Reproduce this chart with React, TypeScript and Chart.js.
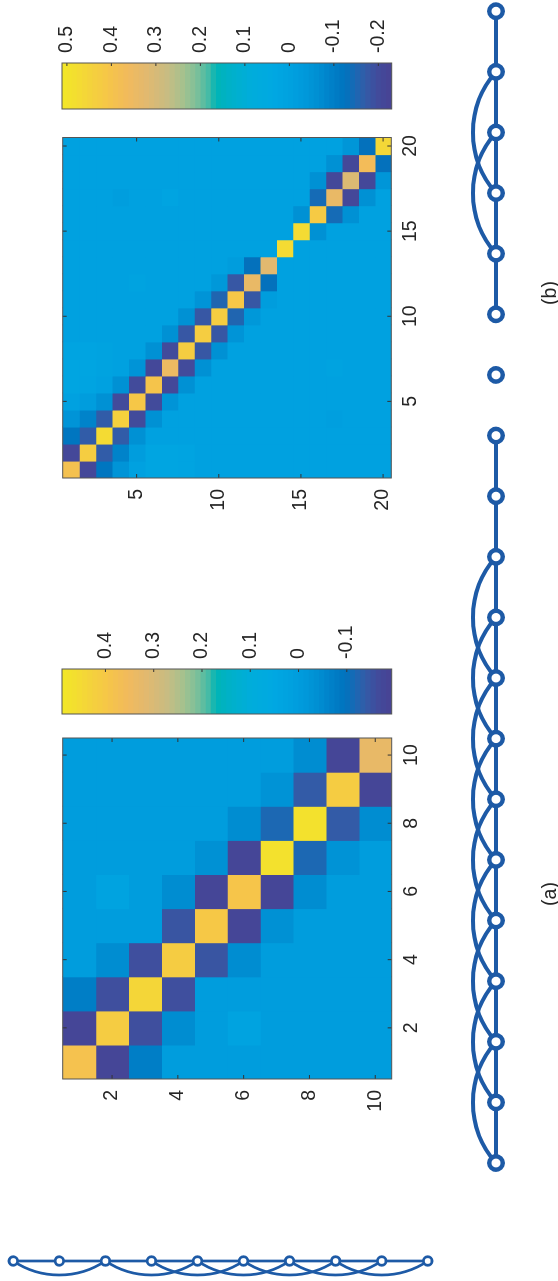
import React, { useEffect, useRef } from 'react';
import { Chart, registerables } from 'chart.js';

Chart.register(...registerables);

// ================= DATA =================
// Heatmap (a): 10 x 10 symmetric matrix, given by its bands
const heatA_tickLabels = [2, 4, 6, 8, 10];
const heatA_diag = [0.38, 0.41, 0.44, 0.41, 0.4, 0.39, 0.47, 0.47, 0.41, 0.33];
const heatA_off1 = [-0.18, -0.16, -0.16, -0.15, -0.18, -0.18, -0.12, -0.14, -0.18];
const heatA_off2 = [-0.075, -0.045, 0, -0.045, -0.035, -0.045, -0.03, -0.045];
const heatA_off3: number[] = [];
const heatA_extra: number[][] = [
  [2, 6, 0.025],
  [6, 2, 0.025],
];
const heatA_clim = [-0.193, 0.49];

// Heatmap (b): 20 x 20 symmetric matrix, given by its bands
const heatB_tickLabels = [5, 10, 15, 20];
const heatB_diag = [
  0.39, 0.43, 0.47, 0.44, 0.41, 0.4, 0.35, 0.43, 0.43, 0.43,
  0.41, 0.34, 0.32, 0.47, 0.47, 0.42, 0.34, 0.31, 0.37, 0.46,
];
const heatB_off1 = [
  -0.21, -0.17, -0.17, -0.2, -0.2, -0.21, -0.2, -0.18, -0.18, -0.155,
  -0.18, -0.13, 0, 0, -0.06, -0.145, -0.21, -0.21, -0.13,
];
const heatB_off2 = [
  -0.12, -0.09, -0.06, -0.06, -0.05, -0.06, -0.06, -0.06, -0.05, -0.04,
  -0.02, 0, 0, 0, 0, -0.06, -0.06, -0.045,
];
const heatB_off3 = [-0.05, -0.02];
const heatB_extra: number[][] = [
  [1, 6, 0.02], [1, 7, 0.02], [1, 8, 0.015], [2, 6, 0.015], [2, 7, 0.02], [2, 8, 0.015],
  [3, 7, 0.01], [3, 8, 0.01], [6, 1, 0.02], [7, 1, 0.02], [6, 2, 0.02], [7, 2, 0.02],
  [8, 1, 0.015], [8, 2, 0.015], [4, 17, -0.015], [7, 17, 0.015], [5, 12, 0.01],
  [17, 4, -0.01], [17, 7, 0.01],
];
const heatB_clim = [-0.23, 0.511];

// Colorbars
const cbarA_tickLabels = [-0.1, 0, 0.1, 0.2, 0.3, 0.4];
const cbarB_tickLabels = [-0.2, -0.1, 0, 0.1, 0.2, 0.3, 0.4, 0.5];

// Colormap stops: [position 0..1, r, g, b]
const cmapStops: number[][] = [
  [0.0, 72, 66, 148],
  [0.04, 66, 75, 155],
  [0.08, 50, 92, 168],
  [0.11, 25, 105, 180],
  [0.14, 0, 115, 190],
  [0.18, 0, 128, 200],
  [0.22, 0, 142, 210],
  [0.26, 0, 153, 218],
  [0.3, 0, 160, 223],
  [0.36, 0, 168, 226],
  [0.43, 0, 173, 218],
  [0.49, 0, 177, 200],
  [0.53, 0, 180, 182],
  [0.555, 70, 187, 166],
  [0.59, 125, 192, 153],
  [0.63, 165, 193, 142],
  [0.68, 200, 188, 130],
  [0.74, 225, 185, 112],
  [0.8, 242, 186, 92],
  [0.86, 246, 198, 72],
  [0.93, 244, 215, 55],
  [1.0, 242, 232, 38],
];

// Graph along the bottom (20 nodes)
const chainNodes = [1, 2, 3, 4, 5, 6, 7, 8, 9, 10, 11, 12, 13, 14, 15, 16, 17, 18, 19, 20];
const chainEdges = [
  [1, 2], [2, 3], [3, 4], [4, 5], [5, 6], [6, 7], [7, 8], [8, 9], [9, 10], [10, 11],
  [11, 12], [12, 13], [15, 16], [16, 17], [17, 18], [18, 19], [19, 20],
];
const chainArcs = [
  [1, 3], [2, 4], [3, 5], [4, 6], [5, 7], [6, 8], [7, 9], [8, 10], [9, 11], [16, 18], [17, 19],
];

// Partial graph at the far edge (10 nodes)
const sideNodes = [1, 2, 3, 4, 5, 6, 7, 8, 9, 10];
const sideEdges = [[1, 2], [2, 3], [3, 4], [4, 5], [5, 6], [6, 7], [7, 8], [8, 9], [9, 10]];
const sideArcs = [[1, 3], [3, 5], [4, 6], [5, 7], [6, 8], [7, 9], [8, 10]];

const captions = ['(a)', '(b)'];

// ================= STYLE =================
const FONT_FAMILY = '"Liberation Sans", Arial, Helvetica, sans-serif';
const FONT_SIZE = 19.5;
const TEXT_COLOR = '#262626';
const BOX_COLOR = '#555555';
const TICK_COLOR = '#333333';
const GRAPH_BLUE = '#1d5aa6';

function buildMatrix(diag: number[], off1: number[], off2: number[], off3: number[], extra: number[][]) {
  const n = diag.length;
  const m: number[][] = [];
  for (let i = 0; i < n; i++) m.push(new Array(n).fill(0));
  diag.forEach((v, i) => { m[i][i] = v; });
  [off1, off2, off3].forEach((band, k) => {
    band.forEach((v, i) => {
      m[i][i + k + 1] = v;
      m[i + k + 1][i] = v;
    });
  });
  extra.forEach(([r, c, v]) => { m[r - 1][c - 1] = v; });
  return m;
}

function cmap(t: number): string {
  const tt = Math.max(0, Math.min(1, t));
  for (let i = 0; i < cmapStops.length - 1; i++) {
    const [t0, r0, g0, b0] = cmapStops[i];
    const [t1, r1, g1, b1] = cmapStops[i + 1];
    if (tt <= t1) {
      const f = (tt - t0) / (t1 - t0);
      return `rgb(${Math.round(r0 + f * (r1 - r0))},${Math.round(g0 + f * (g1 - g0))},${Math.round(b0 + f * (b1 - b0))})`;
    }
  }
  const l = cmapStops[cmapStops.length - 1];
  return `rgb(${l[1]},${l[2]},${l[3]})`;
}

function colorAt(v: number, clim: number[]) {
  return cmap((v - clim[0]) / (clim[1] - clim[0]));
}

// Box around the plot area and inward tick marks (MATLAB style)
const boxTicksPlugin = {
  id: 'boxTicks',
  afterDatasetsDraw(chart: any, _args: any, o: any) {
    const { ctx, chartArea: a } = chart;
    ctx.save();
    ctx.strokeStyle = TICK_COLOR;
    ctx.lineWidth = 1;
    const len = o.len || 4;
    const xs = chart.scales.x;
    const ys = chart.scales.y;
    if (o.sidesX && o.sidesX.length) {
      for (const t of xs.ticks) {
        const p = xs.getPixelForValue(t.value);
        ctx.beginPath();
        if (o.sidesX.includes('bottom')) { ctx.moveTo(p, a.bottom); ctx.lineTo(p, a.bottom - len); }
        if (o.sidesX.includes('top')) { ctx.moveTo(p, a.top); ctx.lineTo(p, a.top + len); }
        ctx.stroke();
      }
    }
    if (o.sidesY && o.sidesY.length) {
      for (const t of ys.ticks) {
        const p = ys.getPixelForValue(t.value);
        ctx.beginPath();
        if (o.sidesY.includes('left')) { ctx.moveTo(a.left, p); ctx.lineTo(a.left + len, p); }
        if (o.sidesY.includes('right')) { ctx.moveTo(a.right, p); ctx.lineTo(a.right - len, p); }
        ctx.stroke();
      }
    }
    ctx.strokeStyle = BOX_COLOR;
    ctx.lineWidth = 1;
    ctx.strokeRect(a.left, a.top, a.right - a.left, a.bottom - a.top);
    ctx.restore();
  },
};

// Draw the edges of the graph (straight + arcs) under the nodes
const graphEdgesPlugin = {
  id: 'graphEdges',
  beforeDatasetsDraw(chart: any, _args: any, o: any) {
    const { ctx } = chart;
    const xs = chart.scales.x;
    const ys = chart.scales.y;
    const P = (n: number) =>
      o.vertical
        ? [xs.getPixelForValue(0), ys.getPixelForValue(n)]
        : [xs.getPixelForValue(n), ys.getPixelForValue(0)];
    ctx.save();
    ctx.strokeStyle = o.color;
    ctx.lineWidth = o.lineWidth;
    ctx.lineCap = 'round';
    for (const [a, b] of o.edges) {
      const [x1, y1] = P(a);
      const [x2, y2] = P(b);
      ctx.beginPath();
      ctx.moveTo(x1, y1);
      ctx.lineTo(x2, y2);
      ctx.stroke();
    }
    for (const [a, b] of o.arcs) {
      const [x1, y1] = P(a);
      const [x2, y2] = P(b);
      const c = Math.hypot(x2 - x1, y2 - y1);
      const s = o.sagitta;
      const R = (c * c / 4 + s * s) / (2 * s);
      const mx = (x1 + x2) / 2;
      const my = (y1 + y2) / 2;
      const [nx, ny] = o.bulge; // unit direction of the bulge
      const cx = mx - nx * (R - s);
      const cy = my - ny * (R - s);
      const a1 = Math.atan2(y1 - cy, x1 - cx);
      const a2 = Math.atan2(y2 - cy, x2 - cx);
      let d = a2 - a1;
      while (d > Math.PI) d -= 2 * Math.PI;
      while (d < -Math.PI) d += 2 * Math.PI;
      ctx.beginPath();
      ctx.arc(cx, cy, R, a1, a1 + d, d < 0);
      ctx.stroke();
    }
    ctx.restore();
  },
};

const tickFont = { family: FONT_FAMILY, size: FONT_SIZE };

function heatmapConfig(matrix: number[][], clim: number[], tickLabels: number[], g: any): any {
  const n = matrix.length;
  const datasets = matrix.map((row, i) => ({
    data: row.map((_, j) => ({ x: j + 1, y: [i + 0.5, i + 1.5] })),
    backgroundColor: row.map((v) => colorAt(v, clim)),
    borderWidth: 0,
    inflateAmount: 0.6,
    grouped: false,
    barPercentage: 1,
    categoryPercentage: 1,
  }));
  const setTicks = (s: any) => { s.ticks = tickLabels.map((v) => ({ value: v })); };
  return {
    type: 'bar',
    data: { datasets },
    options: {
      animation: false,
      responsive: false,
      events: [],
      layout: { padding: { left: 0, top: g.top, right: g.right, bottom: 0 } },
      plugins: {
        legend: { display: false },
        tooltip: { enabled: false },
        boxTicks: { sidesX: ['top', 'bottom'], sidesY: ['left', 'right'], len: 4 },
      },
      scales: {
        x: {
          type: 'linear', position: 'bottom', min: 0.5, max: n + 0.5, offset: false,
          afterBuildTicks: setTicks,
          afterFit: (s: any) => { s.height = g.xAxisH; },
          grid: { display: false, drawTicks: false },
          border: { display: false },
          ticks: { font: tickFont, color: TEXT_COLOR, padding: 8, maxRotation: 0, minRotation: 0, autoSkip: false, callback: (v: any) => String(v) },
        },
        y: {
          type: 'linear', position: 'left', min: 0.5, max: n + 0.5, reverse: true,
          afterBuildTicks: setTicks,
          afterFit: (s: any) => { s.width = g.yAxisW; },
          grid: { display: false, drawTicks: false },
          border: { display: false },
          ticks: { font: tickFont, color: TEXT_COLOR, padding: 11, autoSkip: false, callback: (v: any) => String(v) },
        },
      },
    },
    plugins: [boxTicksPlugin],
  };
}

function colorbarConfig(clim: number[], tickLabels: number[], g: any): any {
  const bands = 64;
  const step = (clim[1] - clim[0]) / bands;
  const datasets = [];
  for (let k = 0; k < bands; k++) {
    datasets.push({
      data: [[clim[0] + k * step, clim[0] + (k + 1) * step]],
      backgroundColor: cmap((k + 0.5) / bands),
      borderWidth: 0,
      inflateAmount: 0.6,
      grouped: false,
      barPercentage: 1,
      categoryPercentage: 1,
    });
  }
  return {
    type: 'bar',
    data: { labels: [''], datasets },
    options: {
      animation: false,
      responsive: false,
      events: [],
      layout: { padding: { left: g.left, top: g.top, right: 0, bottom: g.bottom } },
      plugins: {
        legend: { display: false },
        tooltip: { enabled: false },
        boxTicks: { sidesX: [], sidesY: ['right'], len: 3 },
      },
      scales: {
        x: { type: 'category', display: false, offset: true },
        y: {
          type: 'linear', position: 'right', min: clim[0], max: clim[1],
          afterBuildTicks: (s: any) => { s.ticks = tickLabels.map((v) => ({ value: v })); },
          afterFit: (s: any) => { s.width = g.axisW; },
          grid: { display: false, drawTicks: false },
          border: { display: false },
          ticks: { font: tickFont, color: TEXT_COLOR, padding: 10, autoSkip: false, callback: (v: any) => String(v) },
        },
      },
    },
    plugins: [boxTicksPlugin],
  };
}

function graphConfig(nodes: number[], edges: number[][], arcs: number[][], g: any): any {
  return {
    type: 'scatter',
    data: {
      datasets: [{
        data: nodes.map((n) => (g.vertical ? { x: 0, y: n } : { x: n, y: 0 })),
        pointRadius: g.r,
        pointBorderWidth: g.bw,
        pointBackgroundColor: '#ffffff',
        pointBorderColor: GRAPH_BLUE,
        clip: false,
        showLine: false,
      }],
    },
    options: {
      animation: false,
      responsive: false,
      events: [],
      layout: { padding: g.padding },
      plugins: {
        legend: { display: false },
        tooltip: { enabled: false },
        graphEdges: {
          edges, arcs, vertical: g.vertical, sagitta: g.sagitta, bulge: g.bulge,
          lineWidth: g.lineWidth, color: GRAPH_BLUE,
        },
      },
      scales: {
        x: g.vertical
          ? { type: 'linear', display: false, min: -1, max: 1 }
          : { type: 'linear', display: false, min: nodes[0], max: nodes[nodes.length - 1] },
        y: g.vertical
          ? { type: 'linear', display: false, min: nodes[0], max: nodes[nodes.length - 1], reverse: true }
          : { type: 'linear', display: false, min: -1, max: 1 },
      },
    },
    plugins: [graphEdgesPlugin],
  };
}

function ChartBox({ x, y, w, h, make }: { x: number; y: number; w: number; h: number; make: () => any }) {
  const ref = useRef<HTMLCanvasElement | null>(null);
  useEffect(() => {
    if (!ref.current) return;
    const chart = new Chart(ref.current, make());
    return () => chart.destroy();
  }, []);
  return (
    <div style={{ position: 'absolute', left: x, top: y, width: w, height: h }}>
      <canvas ref={ref} width={w} height={h} style={{ display: 'block', width: w, height: h }} />
    </div>
  );
}

const matrixA = buildMatrix(heatA_diag, heatA_off1, heatA_off2, heatA_off3, heatA_extra);
const matrixB = buildMatrix(heatB_diag, heatB_off1, heatB_off2, heatB_off3, heatB_extra);

const captionCenters = [387, 988];

export default function App() {
  useEffect(() => {
    document.body.style.margin = '0';
    document.body.style.overflow = 'hidden';
    document.documentElement.style.overflow = 'hidden';
  }, []);
  return (
    <div style={{ position: 'fixed', left: 0, top: 0, width: 558, height: 1281, overflow: 'hidden', background: '#ffffff' }}>
      <div
        style={{
          position: 'absolute', left: 0, top: 0, width: 1281, height: 558,
          transformOrigin: '0 0', transform: 'translateY(1281px) rotate(-90deg)',
        }}
      >
        <ChartBox x={140} y={40} w={420} h={400}
          make={() => heatmapConfig(matrixA, heatA_clim, heatA_tickLabels, { yAxisW: 62, top: 22, right: 17, xAxisH: 48.3 })} />
        <ChartBox x={560} y={40} w={110} h={400}
          make={() => colorbarConfig(heatA_clim, cbarA_tickLabels, { left: 7, top: 22, bottom: 48.3, axisW: 58 })} />
        <ChartBox x={740} y={40} w={420} h={400}
          make={() => heatmapConfig(matrixB, heatB_clim, heatB_tickLabels, { yAxisW: 63, top: 22, right: 16.5, xAxisH: 48.7 })} />
        <ChartBox x={1165} y={40} w={116} h={400}
          make={() => colorbarConfig(heatB_clim, cbarB_tickLabels, { left: 7, top: 22, bottom: 48.3, axisW: 63 })} />
        <ChartBox x={0} y={440} w={1281} h={118}
          make={() => graphConfig(chainNodes, chainEdges, chainArcs, {
            vertical: false, r: 6.7, bw: 4.5, lineWidth: 4, sagitta: 23, bulge: [0, -1],
            padding: { left: 118, right: 10, top: 16, bottom: 22 },
          })} />
        <ChartBox x={0} y={0} w={40} h={450}
          make={() => graphConfig(sideNodes, sideEdges, sideArcs, {
            vertical: true, r: 4.3, bw: 2.8, lineWidth: 2.7, sagitta: 14, bulge: [-1, 0],
            padding: { left: 0, right: 6.6, top: 13.3, bottom: 22.3 },
          })} />
        {captions.map((c, i) => (
          <div key={c} style={{
            position: 'absolute', left: captionCenters[i] - 30, top: 538.5, width: 60, textAlign: 'center',
            fontFamily: FONT_FAMILY, fontSize: FONT_SIZE, lineHeight: '20px', color: TEXT_COLOR, whiteSpace: 'nowrap',
          }}>{c}</div>
        ))}
      </div>
    </div>
  );
}
